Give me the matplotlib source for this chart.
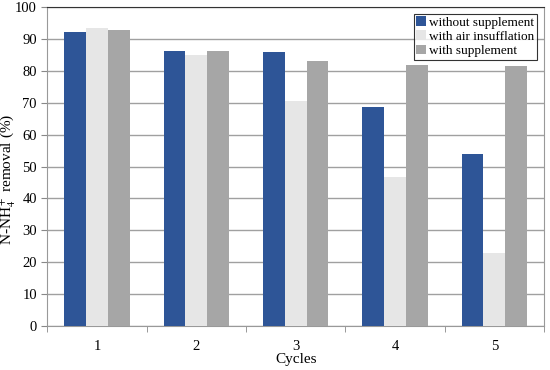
import numpy as np
import matplotlib.pyplot as plt

plt.rcParams['font.family'] = 'Liberation Serif'
plt.rcParams['mathtext.fontset'] = 'stix'

cycles = ['1', '2', '3', '4', '5']
without_supplement = [92.2, 86.3, 85.8, 68.5, 54.0]
air_insufflation = [93.5, 85.0, 70.6, 46.6, 22.8]
with_supplement = [92.8, 86.1, 83.0, 81.7, 81.6]

x = np.arange(1, len(cycles) + 1)
w = 0.22

fig = plt.figure(figsize=(5.5, 3.7), dpi=100)
ax = fig.add_axes([0.086, 0.119, 0.903, 0.862])

ax.bar(x - w, without_supplement, w, color='#2E5597', label='without supplement', zorder=3)
ax.bar(x, air_insufflation, w, color='#E6E6E6', label='with air insufflation', zorder=3)
ax.bar(x + w, with_supplement, w, color='#A6A6A6', label='with supplement', zorder=3)

ax.set_xlim(0.5, 5.5)
ax.set_ylim(0, 100)
ax.set_yticks(range(0, 101, 10))
ax.set_xticks(x)
ax.set_xticklabels(cycles)
ax.set_xticks(np.arange(0.5, 6, 1), minor=True)
ax.tick_params(axis='x', which='major', length=0, labelsize=10.5, pad=10)
ax.tick_params(axis='x', which='minor', length=4, color='#888888', direction='out')
ax.tick_params(axis='y', length=4, color='#888888', labelsize=10.5)
ax.yaxis.grid(True, color='#A0A0A0', linewidth=1, zorder=0)

for s in ['left', 'bottom', 'right']:
    ax.spines[s].set_color('#999999')
ax.spines['top'].set_color('#333333')

ax.set_xlabel('Cycles', fontsize=11, labelpad=0)
ax.set_ylabel('N-NH$_4^+$ removal (%)', fontsize=11)
ax.yaxis.set_label_coords(-0.058, 0.46)

leg = ax.legend(loc='upper right', fontsize=9.5, frameon=True, fancybox=False,
                edgecolor='black', handlelength=0.7, handleheight=0.7,
                handletextpad=0.3, borderpad=0.2, labelspacing=0.15,
                borderaxespad=0.5)
leg.get_frame().set_linewidth(0.8)

fig.savefig('out.png')
